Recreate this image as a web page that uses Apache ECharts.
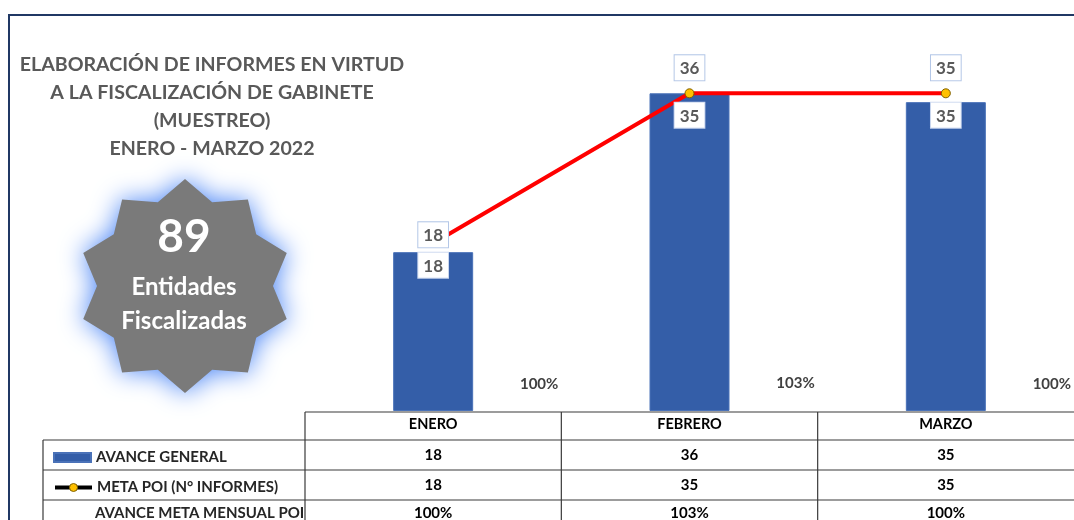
<!DOCTYPE html>
<html>
<head>
<meta charset="utf-8">
<script src="https://cdn.jsdelivr.net/npm/echarts@6/dist/echarts.min.js"></script>
<style>
  html, body { margin: 0; padding: 0; background: #fff; }
  #main { width: 1074px; height: 520px; }
</style>
</head>
<body>
<div id="main"></div>
<script>
const categories = ['ENERO', 'FEBRERO', 'MARZO']
const avanceGeneral = [18, 36, 35]
const metaPoi = [18, 35, 35]
const avanceMetaPct = [100, 103, 100]
const totalEntidades = 89
const titleLines = [
  'ELABORACIÓN DE INFORMES EN VIRTUD',
  'A LA FISCALIZACIÓN DE GABINETE',
  '(MUESTREO)',
  'ENERO - MARZO 2022'
]
// the first month's point of the red line is hidden behind its label
const lineLabelShift = [12, 0, 0]
const lineMarkerShown = [false, true, true]

const FONT = 'Lato'
const GRAY = '#595959'
const BLUE = '#345ea8'

const myChart = echarts.init(document.getElementById('main'))

const boxLabel = {
  show: true,
  fontFamily: FONT,
  fontWeight: 'bold',
  fontSize: 17,
  color: GRAY,
  backgroundColor: '#fff',
  borderColor: '#b4c7e7',
  borderWidth: 1,
  padding: [5, 5, 3, 5]
}

const legendText = { fontFamily: FONT, fontWeight: 'bold', fontSize: 15, color: '#262626' }

const option = {
  animation: false,
  textStyle: { fontFamily: FONT },
  title: {
    text: titleLines.join('\n'),
    left: 207,
    top: 46,
    textAlign: 'center',
    textStyle: {
      fontFamily: FONT,
      fontWeight: 'bold',
      fontSize: 19.6,
      lineHeight: 28,
      color: GRAY
    }
  },
  legend: [
    {
      left: 48, top: 445,
      itemWidth: 37, itemHeight: 9,
      selectedMode: false,
      textStyle: legendText,
      data: [{ name: 'AVANCE GENERAL', icon: 'rect' }]
    },
    {
      left: 48, top: 475,
      itemWidth: 37, itemHeight: 10,
      selectedMode: false,
      textStyle: legendText,
      data: [{
        name: 'META POI (N° INFORMES)',
        lineStyle: { color: '#000', width: 4 },
        itemStyle: { color: '#ffc000', borderColor: '#7f6000', borderWidth: 1 }
      }]
    },
    {
      left: 48, top: 501,
      itemWidth: 37, itemHeight: 9,
      selectedMode: false,
      textStyle: legendText,
      data: [{ name: 'AVANCE META MENSUAL POI', icon: 'none' }]
    }
  ],
  grid: { left: 305, right: -7, top: 58, bottom: 109 },
  xAxis: {
    type: 'category',
    data: categories,
    axisLine: { show: false },
    axisTick: { show: false },
    axisLabel: {
      margin: 6,
      fontFamily: FONT,
      fontWeight: 'bold',
      fontSize: 14.5,
      color: '#000'
    }
  },
  yAxis: [
    { type: 'value', min: 0, max: 40, show: false },
    { type: 'value', min: -1, max: 39, show: false },
    { type: 'value', min: 0, max: 1300, show: false }
  ],
  series: [
    {
      name: 'AVANCE GENERAL',
      type: 'bar',
      data: avanceGeneral,
      barWidth: 80,
      itemStyle: { color: BLUE, borderColor: '#4a72b8', borderWidth: 1 },
      z: 2
    },
    {
      name: 'META POI (N° INFORMES)',
      type: 'line',
      yAxisIndex: 1,
      data: metaPoi.map((v, i) => ({
        value: v,
        symbolSize: lineMarkerShown[i] ? 9 : 0,
        label: { offset: [0, lineLabelShift[i]] }
      })),
      symbol: 'circle',
      symbolSize: 9,
      lineStyle: { color: '#ff0000', width: 4 },
      itemStyle: { color: '#ffc000', borderColor: '#7f6000', borderWidth: 1 },
      label: Object.assign({}, boxLabel, {
        position: 'top',
        distance: 8,
        formatter: p => String(avanceGeneral[p.dataIndex])
      }),
      z: 4
    },
    {
      name: 'meta-labels',
      type: 'scatter',
      data: metaPoi,
      symbolSize: 1,
      itemStyle: { color: 'rgba(0,0,0,0)', opacity: 1 },
      label: Object.assign({}, boxLabel, {
        position: 'bottom',
        distance: 0,
        borderColor: '#c9d6ee',
        formatter: p => String(p.value)
      }),
      z: 5
    },
    {
      name: 'AVANCE META MENSUAL POI',
      type: 'scatter',
      yAxisIndex: 2,
      data: avanceMetaPct,
      symbolSize: 0,
      itemStyle: { color: 'rgba(0,0,0,0)', opacity: 1 },
      label: {
        show: true,
        position: 'inside',
        offset: [106, 0],
        fontFamily: FONT,
        fontWeight: 'bold',
        fontSize: 15,
        color: '#404040',
        formatter: p => p.value + '%'
      }
    }
  ]
}

myChart.setOption(option)

// 10 pointed badge
function badgePoints(cx, cy, rOut, rIn, n) {
  const pts = []
  for (let i = 0; i < n * 2; i++) {
    const r = i % 2 === 0 ? rOut : rIn
    const a = -Math.PI / 2 + i * Math.PI / n
    pts.push([cx + r * Math.cos(a), cy + r * Math.sin(a)])
  }
  return pts
}

const xs = categories.map(c => myChart.convertToPixel({ xAxisIndex: 0 }, c))
const tableTop = 412
const rowLines = [440, 470, 500]
const tableBottom = 530
const leftX = 43
const colLeft = 305
const colRight = 1081
const colBounds = [colLeft]
for (let i = 0; i < xs.length - 1; i++) colBounds.push((xs[i] + xs[i + 1]) / 2)
colBounds.push(colRight)

const lineStyle = { stroke: '#3a3a3a', lineWidth: 1.2 }
const graphics = []

graphics.push({
  type: 'rect', z: -10, silent: true,
  shape: { x: 9, y: 15, width: 1200, height: 700 },
  style: { fill: 'none', stroke: '#203864', lineWidth: 2 }
})

graphics.push({
  type: 'polygon', z: 10,
  shape: { points: badgePoints(185, 286, 107, 88, 10) },
  style: { fill: '#7a7a7a', shadowBlur: 26, shadowColor: 'rgba(70,130,245,1)' }
})
graphics.push({
  type: 'text', z: 11, x: 184, y: 237,
  style: { text: String(totalEntidades), fill: '#fff', font: 'bold 46px Lato', align: 'center', verticalAlign: 'middle' }
})
graphics.push({
  type: 'text', z: 11, x: 184, y: 287,
  style: { text: 'Entidades', fill: '#fff', font: 'bold 24px Lato', align: 'center', verticalAlign: 'middle' }
})
graphics.push({
  type: 'text', z: 11, x: 184, y: 321,
  style: { text: 'Fiscalizadas', fill: '#fff', font: 'bold 24px Lato', align: 'center', verticalAlign: 'middle' }
})

// table grid
graphics.push({ type: 'line', z: 6, shape: { x1: colLeft, y1: tableTop, x2: colRight, y2: tableTop }, style: lineStyle })
rowLines.forEach(y => {
  graphics.push({ type: 'line', z: 6, shape: { x1: leftX, y1: y, x2: colRight, y2: y }, style: lineStyle })
})
graphics.push({ type: 'line', z: 6, shape: { x1: leftX, y1: rowLines[0], x2: leftX, y2: tableBottom }, style: lineStyle })
colBounds.forEach(x => {
  graphics.push({ type: 'line', z: 6, shape: { x1: x, y1: tableTop, x2: x, y2: tableBottom }, style: lineStyle })
})

const rows = [
  avanceGeneral.map(String),
  metaPoi.map(String),
  avanceMetaPct.map(v => v + '%')
]
const rowCenters = [455, 485, 513]
rows.forEach((vals, r) => {
  vals.forEach((t, i) => {
    graphics.push({
      type: 'text', z: 6, x: xs[i], y: rowCenters[r],
      style: { text: t, fill: '#000', font: 'bold 15px Lato', align: 'center', verticalAlign: 'middle' }
    })
  })
})

myChart.setOption({ graphic: graphics })
</script>
</body>
</html>
